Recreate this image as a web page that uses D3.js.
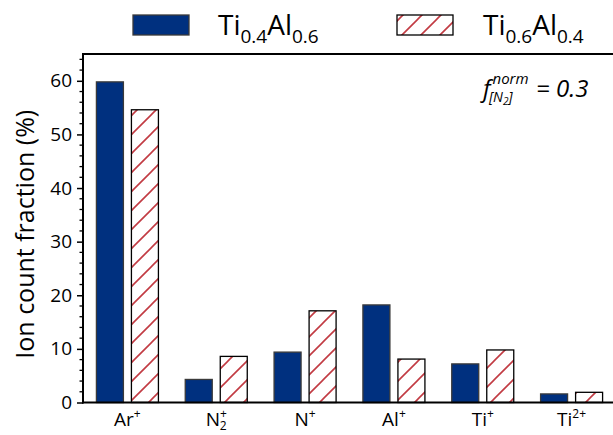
<!DOCTYPE html>
<html>
<head>
<meta charset="utf-8">
<script src="https://cdn.jsdelivr.net/npm/d3@7"></script>
<style>
  body { margin: 0; background: #fff; }
  text { font-family: "Open Sans", "Noto Sans", sans-serif; fill: #000; }
</style>
</head>
<body>
<svg id="chart" width="613" height="435"></svg>
<script>
// ion species on the x axis
const categories = ['Ar+', 'N2+', 'N+', 'Al+', 'Ti+', 'Ti2+'];
const catLabels = [
  {base: 'Ar', sup: '+'},
  {base: 'N', sup: '+', sub: '2'},
  {base: 'N', sup: '+'},
  {base: 'Al', sup: '+'},
  {base: 'Ti', sup: '+'},
  {base: 'Ti', sup: '2+'}
];
const seriesNames = ['Ti0.4Al0.6', 'Ti0.6Al0.4'];
const ti04al06 = [59.8, 4.3, 9.4, 18.2, 7.2, 1.6];
const ti06al04 = [54.6, 8.6, 17.1, 8.1, 9.8, 1.9];
const yTicks = [0, 10, 20, 30, 40, 50, 60];

const blue = '#00307f';
const red = '#c23b43';

const svg = d3.select('#chart');
const margin = {top: 54, right: -3, bottom: 32.5, left: 83};
const W = 613, H = 435;

const x = d3.scaleBand()
  .domain(categories)
  .range([margin.left, W - margin.right])
  .padding(0);

const xs = d3.scaleBand()
  .domain(seriesNames)
  .range([0, x.bandwidth()])
  .paddingInner(0.229)
  .paddingOuter(0.383);

const y = d3.scaleLinear()
  .domain([0, 65])
  .range([H - margin.bottom, margin.top]);

// hatch pattern
const defs = svg.append('defs');
const P = 19;
const pat = defs.append('pattern')
  .attr('id', 'hatch')
  .attr('patternUnits', 'userSpaceOnUse')
  .attr('width', P)
  .attr('height', P);
pat.append('rect').attr('width', P).attr('height', P).attr('fill', '#fff');
pat.append('path')
  .attr('d', `M-2,${P + 2} L${P + 2},-2 M-4,4 L4,-4 M${P - 4},${P + 4} L${P + 4},${P - 4}`)
  .attr('stroke', red)
  .attr('stroke-width', 1.6);

const rows = categories.map((c, i) => ({cat: c, vals: [ti04al06[i], ti06al04[i]]}));

// bars
const g = svg.append('g');
rows.forEach(r => {
  r.vals.forEach((v, j) => {
    g.append('rect')
      .attr('x', x(r.cat) + xs(seriesNames[j]))
      .attr('y', y(v))
      .attr('width', xs.bandwidth())
      .attr('height', y(0) - y(v))
      .attr('fill', j === 0 ? blue : 'url(#hatch)')
      .attr('stroke', j === 0 ? '#3a3a3a' : '#000')
      .attr('stroke-width', 1.3);
  });
});

// y axis
const yAxis = d3.axisLeft(y)
  .tickValues(yTicks)
  .tickSize(6)
  .tickPadding(5);
const ya = svg.append('g')
  .attr('transform', `translate(${margin.left},0)`)
  .call(yAxis);
ya.select('.domain').remove();
ya.selectAll('.tick line').attr('stroke', '#000').attr('stroke-width', 1.5);
ya.selectAll('.tick text').attr('font-size', 19).style('font-family', '"Open Sans", sans-serif');

// minor ticks
const minor = d3.range(0, 65, 2).filter(v => v % 10 !== 0);
svg.append('g').selectAll('line')
  .data(minor)
  .enter().append('line')
  .attr('x1', margin.left - 3.5)
  .attr('x2', margin.left)
  .attr('y1', d => y(d))
  .attr('y2', d => y(d))
  .attr('stroke', '#000')
  .attr('stroke-width', 1.3);

// frame lines: left, bottom, top
svg.append('line')
  .attr('x1', margin.left).attr('x2', margin.left)
  .attr('y1', y(65) - 1).attr('y2', y(0) + 1)
  .attr('stroke', '#000').attr('stroke-width', 2);
svg.append('line')
  .attr('x1', margin.left - 1).attr('x2', W)
  .attr('y1', y(0)).attr('y2', y(0))
  .attr('stroke', '#000').attr('stroke-width', 2);
svg.append('line')
  .attr('x1', margin.left - 1).attr('x2', W)
  .attr('y1', y(65)).attr('y2', y(65))
  .attr('stroke', '#000').attr('stroke-width', 2);

// x labels
const xl = svg.append('g');
catLabels.forEach((l, i) => {
  const cx = x(categories[i]) + x.bandwidth() / 2;
  const t = xl.append('text')
    .attr('x', cx)
    .attr('y', 426)
    .attr('text-anchor', 'middle')
    .attr('font-size', 19);
  t.append('tspan').text(l.base);
  if (l.sub) {
    t.append('tspan').attr('font-size', 12).attr('dy', -8).text(l.sup);
    t.append('tspan').attr('font-size', 12).attr('dx', -7).attr('dy', 12).text(l.sub);
  } else {
    t.append('tspan').attr('font-size', 12).attr('dy', -8).text(l.sup);
  }
});

// y title
svg.append('text')
  .attr('transform', `translate(34,${(y(0) + y(65)) / 2 + 6}) rotate(-90)`)
  .attr('text-anchor', 'middle')
  .attr('font-size', 25)
  .text('Ion count fraction (%)');

// legend
const legend = [
  {x: 133, fill: blue, stroke: '#3a3a3a', base: ['Ti', 'Al'], subs: ['0.4', '0.6'], tx: 218},
  {x: 397, fill: 'url(#hatch)', stroke: '#000', base: ['Ti', 'Al'], subs: ['0.6', '0.4'], tx: 483}
];
legend.forEach(lg => {
  svg.append('rect')
    .attr('x', lg.x).attr('y', 15)
    .attr('width', 56).attr('height', 20)
    .attr('fill', lg.fill)
    .attr('stroke', lg.stroke).attr('stroke-width', 1.3);
  const t = svg.append('text')
    .attr('x', lg.tx).attr('y', 35)
    .attr('font-size', 28);
  t.append('tspan').text(lg.base[0]);
  t.append('tspan').attr('font-size', 19).attr('dy', 8).text(lg.subs[0]);
  t.append('tspan').attr('dy', -8).text(lg.base[1]);
  t.append('tspan').attr('font-size', 19).attr('dy', 8).text(lg.subs[1]);
});

// annotation
const ann = svg.append('text')
  .attr('x', 483).attr('y', 97)
  .attr('font-size', 24)
  .attr('font-style', 'italic');
ann.append('tspan').text('f');
ann.append('tspan').attr('font-size', 15).attr('dx', 2).attr('dy', -13).text('norm');
ann.append('tspan').attr('font-size', 14).attr('x', 489).attr('dy', 18).text('[N');
ann.append('tspan').attr('font-size', 10).attr('dy', 3).text('2');
ann.append('tspan').attr('font-size', 14).attr('dy', -3).text(']');
ann.append('tspan').attr('x', 536).attr('dy', -5).text('= 0.3');
</script>
</body>
</html>
